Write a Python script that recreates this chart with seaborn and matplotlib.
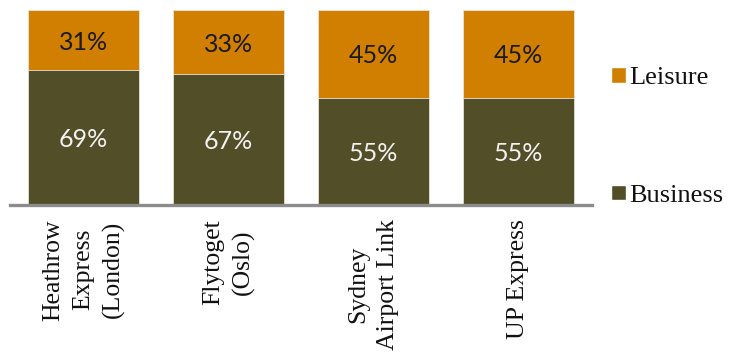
import matplotlib
matplotlib.use("Agg")
import matplotlib.pyplot as plt
import matplotlib.patches as mpatches
import pandas as pd
import seaborn as sns

# data
services = ["Heathrow\nExpress\n(London)", "Flytoget\n(Oslo)", "Sydney\nAirport Link", "UP Express"]
business = [69, 67, 55, 55]
leisure = [31, 33, 45, 45]

BUSINESS_COLOR = "#524E27"
LEISURE_COLOR = "#D07F00"
SERIF = ["Liberation Serif", "DejaVu Serif"]

sns.set_theme(style="white")
plt.rcParams["font.family"] = SERIF

df = pd.DataFrame({"service": services, "business": business, "leisure": leisure})
df["total"] = df["business"] + df["leisure"]

fig = plt.figure(figsize=(7.30, 3.56), dpi=100)
ax = fig.add_axes([10 / 730, 1 - 205 / 356, 582 / 730, 197 / 356])

# stacked bars: full height in leisure colour, business drawn over it
sns.barplot(data=df, x="service", y="total", color=LEISURE_COLOR, width=0.766,
            saturation=1, ax=ax, edgecolor="#e8e4d8", linewidth=0.6)
sns.barplot(data=df, x="service", y="business", color=BUSINESS_COLOR, width=0.766,
            saturation=1, ax=ax, edgecolor="#e8e4d8", linewidth=0.6)

ax.set_ylim(0, 101)
ax.set_xlim(-0.507, len(services) - 1 + 0.507)

for i, (b, l) in enumerate(zip(business, leisure)):
    ax.text(i, b / 2 - 1, f"{b}%", ha="center", va="center", fontsize=18,
            family="Lato", color="#f2f2f2")
    ax.text(i, b + l / 2 - 1, f"{l}%", ha="center", va="center", fontsize=18,
            family="Lato", color="#1a1a1a")

ax.set_xlabel("")
ax.set_ylabel("")
ax.set_yticks([])
ax.set_xticks(range(len(services)))
ax.set_xticklabels(services, rotation=90, ha="center", va="top",
                   multialignment="center", fontsize=18.5, color="#111111",
                   family=SERIF, linespacing=1.45)
ax.tick_params(axis="x", length=0, pad=10)

for side in ["top", "left", "right"]:
    ax.spines[side].set_visible(False)
ax.spines["bottom"].set_color("#8c8c8c")
ax.spines["bottom"].set_linewidth(2.4)

handles = [
    mpatches.Patch(facecolor=LEISURE_COLOR, label="Leisure"),
    mpatches.Patch(facecolor=BUSINESS_COLOR, label="Business"),
]
fig.legend(handles=handles, loc="center left", bbox_to_anchor=(598 / 730, 1 - 137 / 356),
           frameon=False, prop={"family": SERIF, "size": 19}, handlelength=0.55,
           handleheight=0.55, handletextpad=0.15, labelspacing=3.6, borderpad=0,
           labelcolor="#111111")

fig.savefig("out.png", dpi=100)
